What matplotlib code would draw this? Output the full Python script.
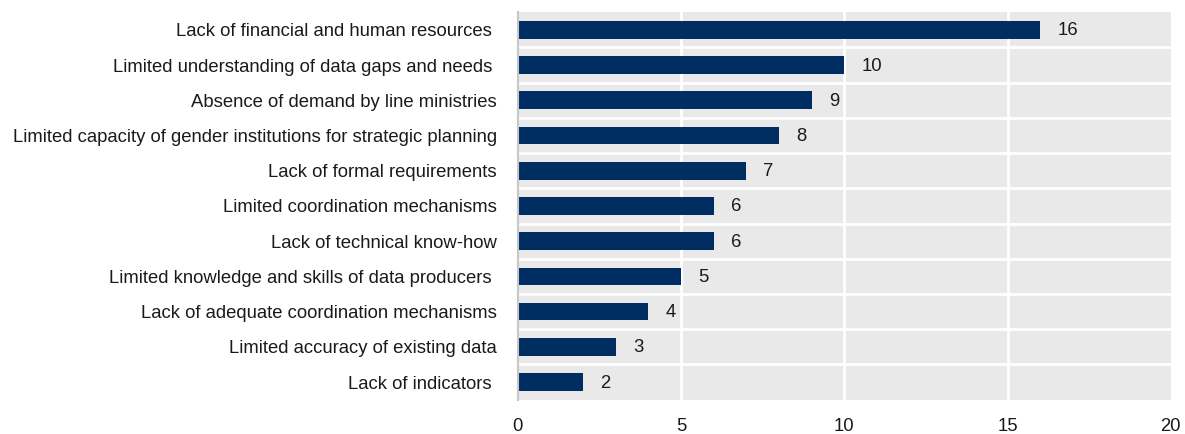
import matplotlib
matplotlib.use("Agg")
import matplotlib.pyplot as plt
from matplotlib import font_manager
import numpy as np

names = {f.name for f in font_manager.fontManager.ttflist}
if 'Liberation Sans Narrow' in names:
    FAM = ['Liberation Sans Narrow', 'DejaVu Sans']
    FS = 16
else:
    FAM = ['Liberation Sans', 'DejaVu Sans']
    FS = 13.3
plt.rcParams['font.family'] = FAM

categories = [
    "Lack of financial and human resources ",
    "Limited understanding of data gaps and needs ",
    "Absence of demand by line ministries",
    "Limited capacity of gender institutions for strategic planning",
    "Lack of formal requirements",
    "Limited coordination mechanisms",
    "Lack of technical know-how",
    "Limited knowledge and skills of data producers ",
    "Lack of adequate coordination mechanisms",
    "Limited accuracy of existing data",
    "Lack of indicators ",
]
values = [16, 10, 9, 8, 7, 6, 6, 5, 4, 3, 2]
xticks = [0, 5, 10, 15, 20]

bar_color = "#002D62"
bg = "#E9E9E9"

fig = plt.figure(figsize=(11.85, 4.34), dpi=100)
ax = fig.add_axes([0.437, 0.079, 0.551, 0.893])
ax.set_facecolor(bg)

n = len(categories)
y = np.arange(n)
ax.barh(y, values, height=0.5, color=bar_color, zorder=3)
ax.set_ylim(n - 0.5, -0.5)
ax.set_xlim(0, 20)

for yi, v in zip(y, values):
    ax.annotate(str(v), (v, yi), xytext=(17, -1), textcoords="offset pixels",
                va="center", ha="left", fontsize=FS, color="#1a1a1a")

ax.set_yticks(y)
ax.set_yticklabels(categories, fontsize=FS, color="#1a1a1a")
ax.set_xticks(xticks)
ax.set_xticklabels([str(t) for t in xticks], fontsize=FS, color="#1a1a1a")
ax.tick_params(axis='y', length=0, pad=15)
ax.tick_params(axis='x', length=0, pad=13)

for xv in xticks[1:-1]:
    ax.axvline(xv, color="white", lw=2, zorder=1)
for b in np.arange(0.5, n - 0.5, 1):
    ax.axhline(b, color="white", lw=2, zorder=1)

for s in ['top', 'right', 'bottom']:
    ax.spines[s].set_visible(False)
ax.spines['left'].set_color("#C8C8C8")
ax.spines['left'].set_linewidth(1.5)
ax.spines['left'].set_zorder(4)

fig.savefig("out.png", dpi=100)
